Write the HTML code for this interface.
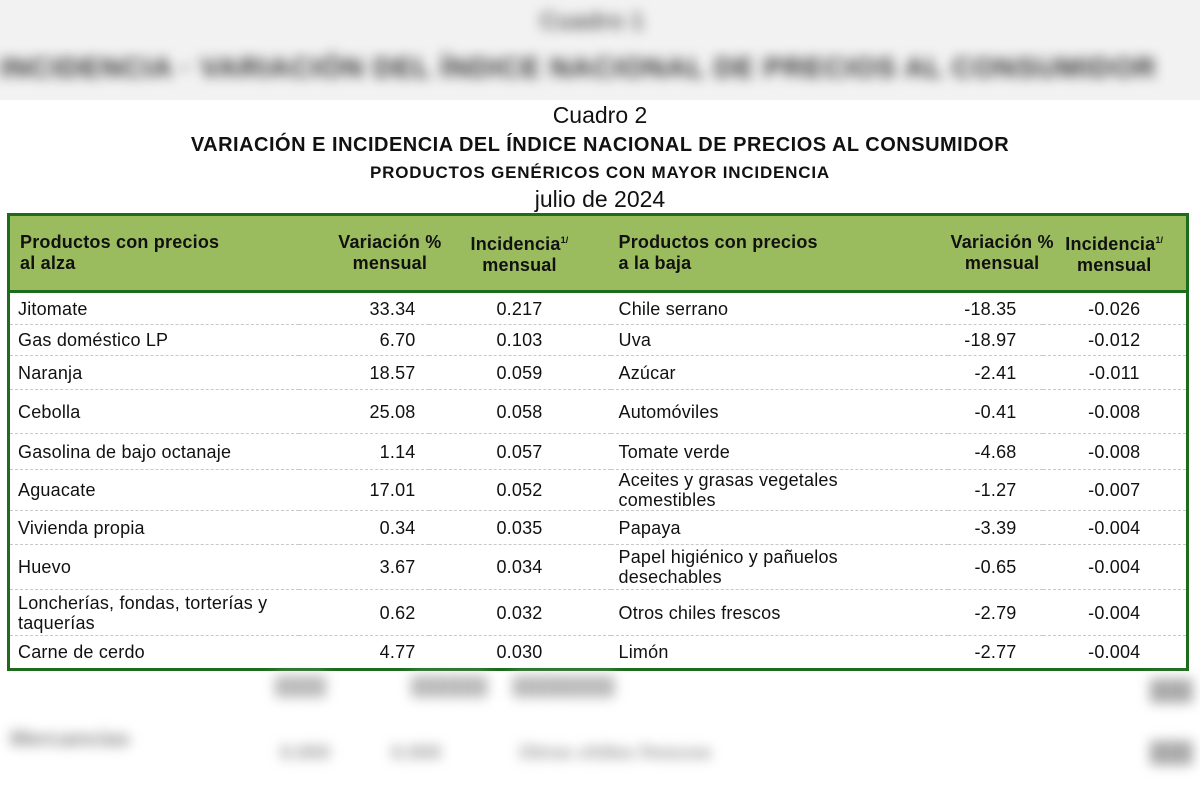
<!DOCTYPE html>
<html><head><meta charset="utf-8"><style>
*{margin:0;padding:0;box-sizing:border-box}
body{width:1200px;height:800px;background:#fff;position:relative;overflow:hidden;font-family:"Liberation Sans",Arial,sans-serif;color:#111}
.blur{position:absolute;filter:blur(6px);color:#444;font-weight:bold;white-space:nowrap}
.t{position:absolute;left:0;width:1200px;text-align:center;white-space:nowrap}
table{position:absolute;left:7px;top:213px;width:1182px;height:456px;border:3px solid #1e6b1e;border-collapse:collapse;font-size:18px;letter-spacing:0.2px;table-layout:fixed}
th{background:#9bbb5f;font-weight:bold;font-size:18px;line-height:21px;vertical-align:middle;border-bottom:3px solid #1e6b1e;height:77px;white-space:nowrap}
td{border-bottom:1px dashed #c8c8c8;line-height:20px;white-space:nowrap}
.l{text-align:left;padding-left:8px}
.r{text-align:right}
.c{text-align:center}
sup{font-size:9px}
</style></head><body>
<div style="position:absolute;left:0;top:0;width:1200px;height:100px;background:#f2f2f2"></div>
<div class="blur" style="left:540px;top:8px;font-size:24px;color:#666">Cuadro 1</div>
<div class="blur" style="left:0;top:52px;font-size:28px;letter-spacing:1px;color:#333">INCIDENCIA · VARIACIÓN DEL ÍNDICE NACIONAL DE PRECIOS AL CONSUMIDOR</div>
<div class="t" style="top:102px;font-size:23px">Cuadro 2</div>
<div class="t" style="top:134px;font-size:20px;font-weight:bold;letter-spacing:0.5px">VARIACIÓN E INCIDENCIA DEL ÍNDICE NACIONAL DE PRECIOS AL CONSUMIDOR</div>
<div class="t" style="top:163px;font-size:17px;font-weight:bold;letter-spacing:0.8px">PRODUCTOS GENÉRICOS CON MAYOR INCIDENCIA</div>
<div class="t" style="top:186px;font-size:23px">julio de 2024</div>
<table>
<colgroup><col style="width:290px"><col style="width:130px"><col style="width:182px"><col style="width:337px"><col style="width:95px"><col></colgroup>
<tr><th class="l" style="padding-left:10px">Productos con precios<br>al alza</th><th class="r"><span style="position:relative;left:13px;display:inline-block;text-align:center">Variación %<br>mensual</span></th><th class="c">Incidencia<sup>1/</sup><br>mensual</th><th class="l" style="padding-left:8px">Productos con precios<br>a la baja</th><th class="r"><span style="position:relative;left:3px;display:inline-block;text-align:center">Variación %<br>mensual</span></th><th class="c">Incidencia<sup>1/</sup><br>mensual</th></tr>
<tr style="height:33px"><td class="l">Jitomate</td><td class="r" style="padding-right:13px">33.34</td><td class="c">0.217</td><td class="l">Chile serrano</td><td class="r" style="padding-right:26px">-18.35</td><td class="c">-0.026</td></tr>
<tr style="height:31px"><td class="l">Gas doméstico LP</td><td class="r" style="padding-right:13px">6.70</td><td class="c">0.103</td><td class="l">Uva</td><td class="r" style="padding-right:26px">-18.97</td><td class="c">-0.012</td></tr>
<tr style="height:34px"><td class="l">Naranja</td><td class="r" style="padding-right:13px">18.57</td><td class="c">0.059</td><td class="l">Azúcar</td><td class="r" style="padding-right:26px">-2.41</td><td class="c">-0.011</td></tr>
<tr style="height:44px"><td class="l">Cebolla</td><td class="r" style="padding-right:13px">25.08</td><td class="c">0.058</td><td class="l">Automóviles</td><td class="r" style="padding-right:26px">-0.41</td><td class="c">-0.008</td></tr>
<tr style="height:36px"><td class="l">Gasolina de bajo octanaje</td><td class="r" style="padding-right:13px">1.14</td><td class="c">0.057</td><td class="l">Tomate verde</td><td class="r" style="padding-right:26px">-4.68</td><td class="c">-0.008</td></tr>
<tr style="height:40px"><td class="l">Aguacate</td><td class="r" style="padding-right:13px">17.01</td><td class="c">0.052</td><td class="l">Aceites y grasas vegetales<br>comestibles</td><td class="r" style="padding-right:26px">-1.27</td><td class="c">-0.007</td></tr>
<tr style="height:34px"><td class="l">Vivienda propia</td><td class="r" style="padding-right:13px">0.34</td><td class="c">0.035</td><td class="l">Papaya</td><td class="r" style="padding-right:26px">-3.39</td><td class="c">-0.004</td></tr>
<tr style="height:45px"><td class="l">Huevo</td><td class="r" style="padding-right:13px">3.67</td><td class="c">0.034</td><td class="l">Papel higiénico y pañuelos<br>desechables</td><td class="r" style="padding-right:26px">-0.65</td><td class="c">-0.004</td></tr>
<tr style="height:46px"><td class="l">Loncherías, fondas, torterías y<br>taquerías</td><td class="r" style="padding-right:13px">0.62</td><td class="c">0.032</td><td class="l">Otros chiles frescos</td><td class="r" style="padding-right:26px">-2.79</td><td class="c">-0.004</td></tr>
<tr style="height:34px"><td class="l" style="border:0">Carne de cerdo</td><td class="r" style="border:0;padding-right:13px">4.77</td><td class="c" style="border:0">0.030</td><td class="l" style="border:0">Limón</td><td class="r" style="border:0;padding-right:26px">-2.77</td><td class="c" style="border:0">-0.004</td></tr>
</table>
<div class="blur" style="left:275px;top:676px;font-size:18px;color:#bbb">████ &nbsp;&nbsp;&nbsp;&nbsp;&nbsp;&nbsp;&nbsp;&nbsp;&nbsp;&nbsp;&nbsp;&nbsp;&nbsp;&nbsp;&nbsp; ██████ &nbsp;&nbsp;&nbsp; ████████</div>
<div class="blur" style="left:10px;top:726px;font-size:22px;color:#888">Mercancías</div>
<div class="blur" style="left:280px;top:742px;font-size:20px;color:#999">0.000 &nbsp;&nbsp;&nbsp;&nbsp;&nbsp;&nbsp;&nbsp;&nbsp;&nbsp; 0.000 &nbsp;&nbsp;&nbsp;&nbsp;&nbsp;&nbsp;&nbsp;&nbsp;&nbsp;&nbsp;&nbsp;&nbsp; Otros chiles frescos</div>
<div class="blur" style="left:1150px;top:680px;font-size:20px;color:#aaa">███</div>
<div class="blur" style="left:1150px;top:742px;font-size:20px;color:#aaa">███</div>
</body></html>
